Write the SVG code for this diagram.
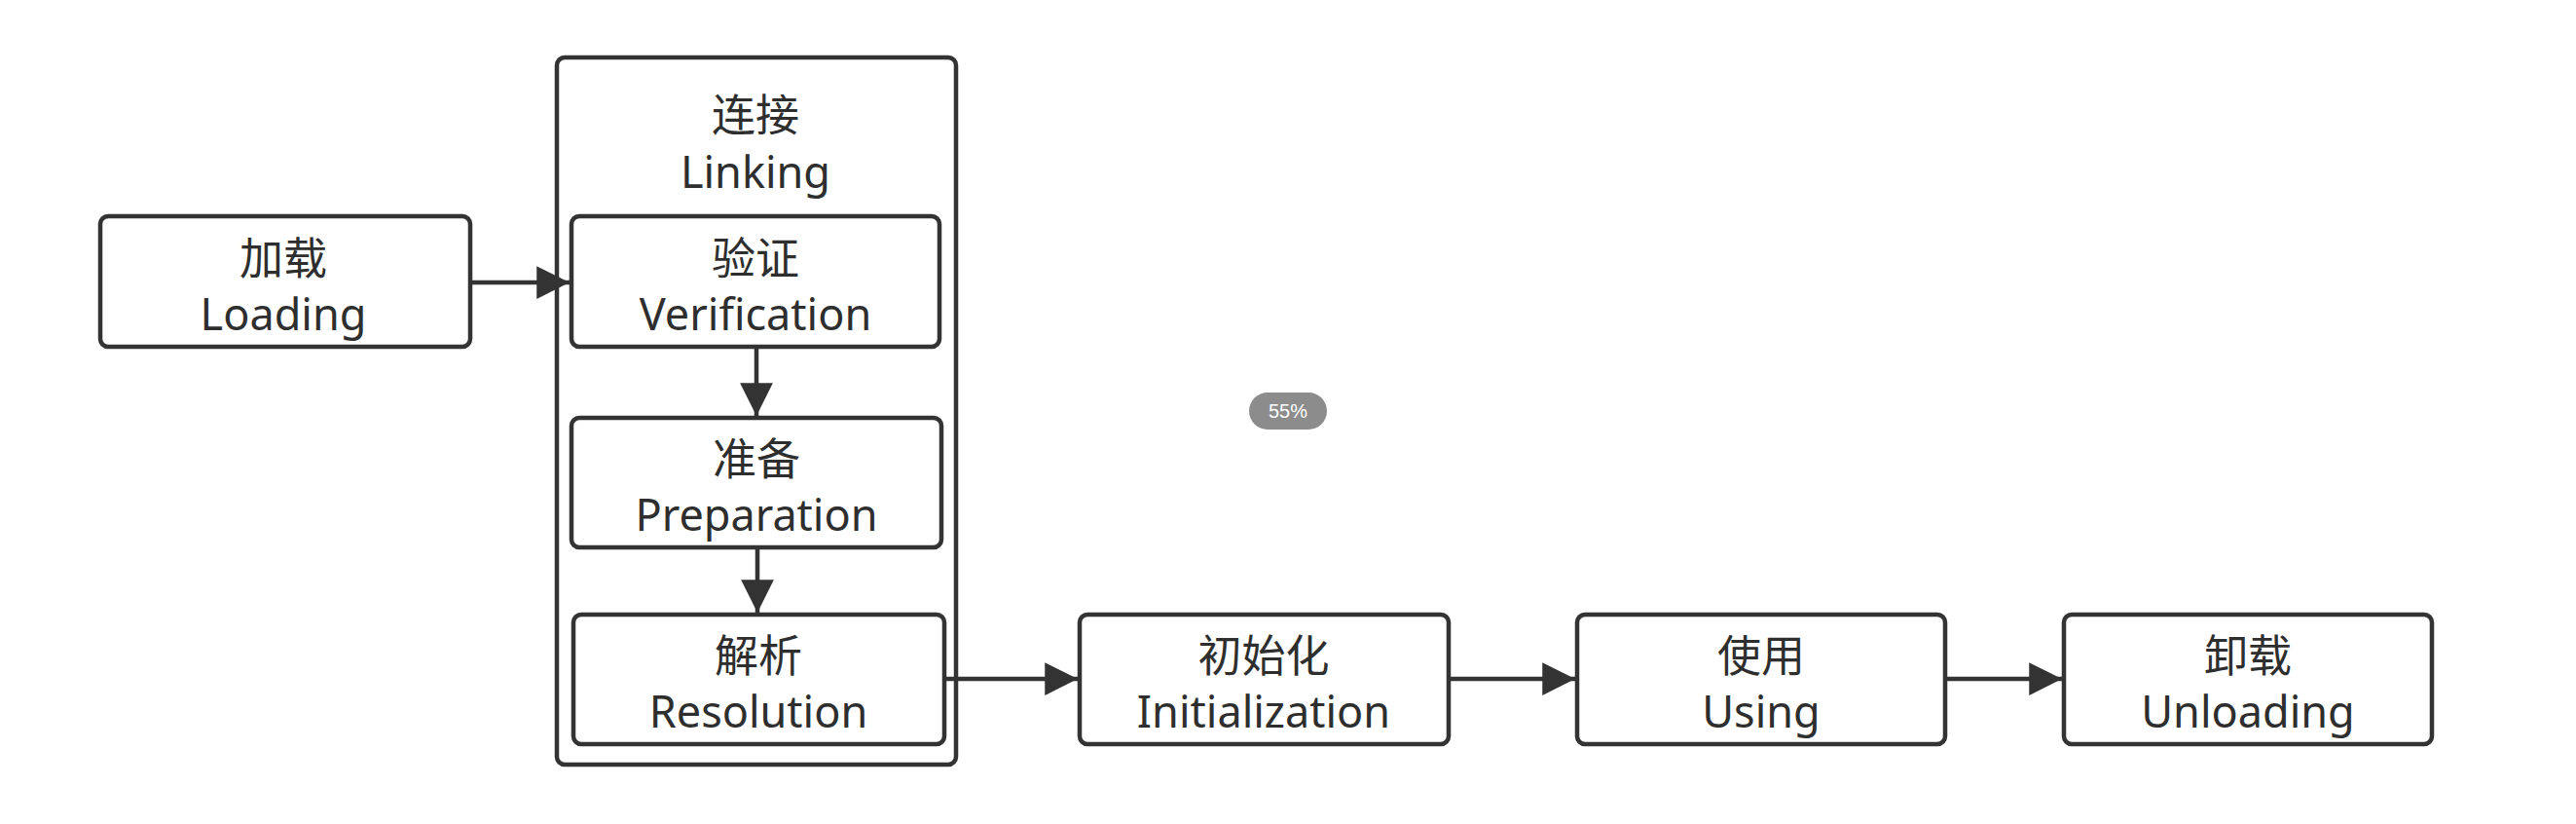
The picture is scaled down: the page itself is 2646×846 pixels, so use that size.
<svg xmlns="http://www.w3.org/2000/svg" width="2646" height="846" viewBox="0 0 2646 846">
<style>
.box{fill:#ffffff;stroke:#333333;stroke-width:4.5}
.t{font-family:"Noto Sans","Noto Sans CJK SC",sans-serif;font-size:45px;fill:#2e2e2e;text-anchor:middle}
.c{stroke:#333333;stroke-width:4.5;fill:none}
</style>
<defs>
<marker id="ah" viewBox="0 0 10 10" refX="10" refY="5" markerWidth="7.5" markerHeight="7.5" markerUnits="strokeWidth" orient="auto">
<path d="M0,0 L10,5 L0,10 z" fill="#333333"/>
</marker>
</defs>
<rect width="2646" height="846" fill="#ffffff"/>
<g id="linking">
<rect class="box" x="572" y="59" width="410" height="726" rx="8"/>
<text class="t" x="776" y="135">连接</text>
<text class="t" x="776" y="193">Linking</text>
</g>
<g id="loading">
<rect class="box" x="103" y="222" width="380" height="134" rx="8"/>
<text class="t" x="291" y="282">加载</text>
<text class="t" x="291" y="339">Loading</text>
</g>
<g id="verification">
<rect class="box" x="587" y="222" width="378" height="134" rx="8"/>
<text class="t" x="776" y="282">验证</text>
<text class="t" x="776" y="339">Verification</text>
</g>
<g id="preparation">
<rect class="box" x="587" y="429" width="380" height="133" rx="8"/>
<text class="t" x="777" y="488">准备</text>
<text class="t" x="777" y="545">Preparation</text>
</g>
<g id="resolution">
<rect class="box" x="589" y="631" width="381" height="133" rx="8"/>
<text class="t" x="779" y="690">解析</text>
<text class="t" x="779" y="747">Resolution</text>
</g>
<g id="initialization">
<rect class="box" x="1109" y="631" width="379" height="133" rx="8"/>
<text class="t" x="1298" y="690">初始化</text>
<text class="t" x="1298" y="747">Initialization</text>
</g>
<g id="using">
<rect class="box" x="1620" y="631" width="378" height="133" rx="8"/>
<text class="t" x="1809" y="690">使用</text>
<text class="t" x="1809" y="747">Using</text>
</g>
<g id="unloading">
<rect class="box" x="2120" y="631" width="378" height="133" rx="8"/>
<text class="t" x="2309" y="690">卸载</text>
<text class="t" x="2309" y="747">Unloading</text>
</g>
<g id="connectors">
<line class="c" x1="483" y1="290" x2="585" y2="290" marker-end="url(#ah)"/>
<line class="c" x1="777" y1="358" x2="777" y2="427" marker-end="url(#ah)"/>
<line class="c" x1="778" y1="564" x2="778" y2="629" marker-end="url(#ah)"/>
<line class="c" x1="970" y1="697" x2="1107" y2="697" marker-end="url(#ah)"/>
<line class="c" x1="1488" y1="697" x2="1618" y2="697" marker-end="url(#ah)"/>
<line class="c" x1="1998" y1="697" x2="2118" y2="697" marker-end="url(#ah)"/>
</g>
<g id="badge">
<rect x="1283" y="403" width="80" height="38" rx="19" fill="#8c8c8c"/>
<text x="1323" y="429" font-family="Liberation Sans, Arial, sans-serif" font-size="20" fill="#ffffff" text-anchor="middle">55%</text>
</g>
</svg>
